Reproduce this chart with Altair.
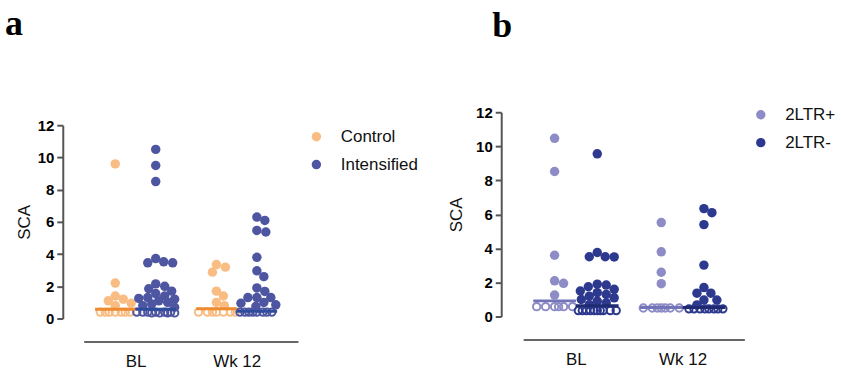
import math
import altair as alt
import pandas as pd

# ---------------- data ----------------
time_labels = ["BL", "Wk 12"]

# panel a : arm
arm_groups = ["Control", "Intensified"]
control_bl = [9.6, 2.2, 1.4, 1.2, 1.1, 0.95, 0.8, 0.4, 0.4, 0.4, 0.4, 0.4, 0.4, 0.4]
intens_bl = [10.5, 9.5, 8.5, 3.72, 3.52, 3.46, 3.46, 2.15, 2.0, 1.85, 1.7, 1.55,
             1.4, 1.3, 1.25, 1.2, 1.1, 1.0, 0.9, 0.8, 0.7,
             0.4, 0.4, 0.4, 0.4, 0.4, 0.4, 0.35, 0.35, 0.35, 0.35]
control_wk12 = [3.35, 3.19, 2.88, 1.7, 1.4, 1.0, 0.8, 0.4, 0.4, 0.4, 0.4, 0.4, 0.4, 0.4]
intens_wk12 = [6.3, 6.09, 5.47, 5.37, 3.8, 2.96, 2.6, 1.9, 1.68, 1.3, 1.3, 1.3,
               1.0, 0.95, 0.85, 0.75, 0.4, 0.4, 0.4, 0.4, 0.4, 0.4, 0.4, 0.4]
arm_medians = {("Control", 1): 0.57, ("Intensified", 1): 0.57,
               ("Control", 2): 0.6, ("Intensified", 2): 0.45}

# panel b : 2LTR status
ltr_groups = ["2LTR+", "2LTR-"]
ltrp_bl = [10.47, 8.52, 3.6, 2.1, 1.95, 1.26, 0.58, 0.58, 0.58, 0.58, 0.58, 0.58]
ltrm_bl = [9.56, 3.76, 3.51, 3.51, 3.5, 1.9, 1.85, 1.75, 1.6, 1.5, 1.4, 1.3, 1.2,
           1.1, 1.0, 0.9, 0.8, 0.7, 0.35, 0.35, 0.35, 0.35, 0.35, 0.35, 0.35,
           0.35, 0.35, 0.35]
ltrp_wk12 = [5.52, 3.8, 2.6, 1.93, 0.5, 0.5, 0.5, 0.5, 0.5, 0.5, 0.5]
ltrm_wk12 = [6.34, 6.1, 5.4, 3.02, 1.7, 1.37, 1.37, 0.97, 0.97, 0.68,
             0.45, 0.45, 0.45, 0.45, 0.45, 0.45, 0.45, 0.45]
ltr_medians = {("2LTR+", 1): 0.92, ("2LTR-", 1): 0.64,
               ("2LTR+", 2): 0.53, ("2LTR-", 2): 0.53}

LOD = 0.6  # values below this are drawn as open circles


def swarm(values, py, px, d=8.5, maxoff=19):
    """simple beeswarm: horizontal offsets (in x units) computed from values"""
    placed, offs = [], []
    cands = [0]
    for k in range(1, maxoff + 1):
        cands += [k, -k]
    for v in values:
        y = v * py
        best, bestd = 0, -1
        for c in cands:
            md = min((math.hypot(c - a, y - b) for a, b in placed), default=1e9)
            if md >= d:
                best = c
                break
            if md > bestd:
                bestd, best = md, c
        placed.append((best, y))
        offs.append(best / px)
    return offs


def build(groups, series, medians, py, px, sub=0.2):
    rows, mrows = [], []
    for (g, t), vals in series.items():
        center = t + (-sub if g == groups[0] else sub)
        for v, o in zip(vals, swarm(vals, py, px)):
            rows.append({"group": g, "time": t, "value": v, "x": center + o,
                         "open": v < LOD})
        mrows.append({"group": g, "x": center - sub, "x2": center + sub,
                      "median": medians[(g, t)]})
    return pd.DataFrame(rows), pd.DataFrame(mrows)


def title_params(letter, dx, off):
    return alt.TitleParams(letter, anchor="start", frame="group", dx=dx, offset=off,
                           font="Liberation Serif", fontSize=36, fontWeight="bold",
                           color="#000000")


def panel(groups, series, medians, fills, lines, width, height,
          xdom, py, yoff, xoff, legx, legy, ttl_pad):
    px = width / (xdom[1] - xdom[0])
    df, md = build(groups, series, medians, py, px)
    label_expr = f"datum.value == 1 ? '{time_labels[0]}' : '{time_labels[1]}'"
    xs = alt.Scale(domain=xdom, nice=False, zero=False)
    ys = alt.Scale(domain=[0, 12], nice=False)
    xax = alt.Axis(values=[1, 2], labelExpr=label_expr, ticks=False, grid=False,
                   title=None, offset=xoff, domainColor="#333333", domainWidth=1.5,
                   labelFontSize=17, labelFont="Liberation Sans", labelColor="#111111",
                   labelPadding=12, labelOverlap=False)
    yax = alt.Axis(values=list(range(0, 13, 2)), grid=False, title="SCA",
                   offset=yoff, domainColor="#555555", domainWidth=2,
                   tickColor="#555555", tickWidth=2, tickSize=6, labelOverlap=False,
                   labelFontSize=15, labelFontWeight="bold", labelFont="Liberation Sans",
                   labelColor="#000000", labelPadding=3,
                   titleFont="Liberation Sans", titleFontSize=17, titleFontWeight="normal",
                   titleColor="#111111", titlePadding=ttl_pad)
    X = alt.X("x:Q", scale=xs, axis=xax)
    Y = alt.Y("value:Q", scale=ys, axis=yax)
    base = alt.Chart(df)
    # open circles (below detection); their colour legend gives hollow symbols
    opened = base.transform_filter("datum.open").mark_point(
        filled=False, strokeWidth=2, size=55, opacity=1
    ).encode(
        x=X, y=Y,
        color=alt.Color("group:N", scale=alt.Scale(domain=groups, range=fills),
                        legend=alt.Legend(title=None, orient="none", legendX=legx,
                                          legendY=legy, symbolType="circle",
                                          symbolSize=50, symbolStrokeWidth=2.4,
                                          labelFontSize=17, labelFont="Liberation Sans",
                                          labelColor="#111111", labelOffset=16,
                                          rowPadding=10)),
    )
    filled = base.transform_filter("!datum.open").mark_circle(size=90, opacity=1).encode(
        x=X, y=Y,
        fill=alt.Fill("group:N", scale=alt.Scale(domain=groups, range=fills), legend=None),
    )
    rules = alt.Chart(md).mark_rule(strokeWidth=3).encode(
        x=X, x2="x2:Q",
        y=alt.Y("median:Q", scale=ys, axis=yax),
        stroke=alt.Stroke("group:N", scale=alt.Scale(domain=groups, range=lines), legend=None),
    )
    return alt.layer(opened, filled, rules).properties(width=width, height=height)


pa = panel(arm_groups,
           {("Control", 1): control_bl, ("Intensified", 1): intens_bl,
            ("Control", 2): control_wk12, ("Intensified", 2): intens_wk12},
           arm_medians, ["#F9BD83", "#4E56A2"], ["#EE8A30", "#2F4B9C"],
           215, 194, [0.488, 2.606], 194 / 12, 21, 23, 225, 16, 4)
pb = panel(ltr_groups,
           {("2LTR+", 1): ltrp_bl, ("2LTR-", 1): ltrm_bl,
            ("2LTR+", 2): ltrp_wk12, ("2LTR-", 2): ltrm_wk12},
           ltr_medians, ["#8D8CC6", "#2D398E"], ["#7373B8", "#1F2A70"],
           222, 205, [0.505, 2.579], 205 / 12, 22, 23, 230, -6, 10
           ).properties(title=title_params("b", -31, 61))

# thin empty header that carries the panel letter "a" (panel a sits lower than b)
header_a = alt.Chart(pd.DataFrame({"t": [""]})).mark_text().encode(
    text="t:N").properties(width=215, height=1, title=title_params("a", -79, 64))

left = alt.vconcat(header_a, pa, spacing=0)

chart = alt.concat(left, pb, columns=2, spacing=29).resolve_scale(
    x="independent", y="independent", stroke="independent",
    fill="independent", color="independent"
).resolve_legend(color="independent").configure(
    background="white", padding={"left": 5, "top": 5, "right": 5, "bottom": 0}
).configure_view(strokeWidth=0)

chart.save("out.html", embed_options={"renderer": "svg", "actions": False})
